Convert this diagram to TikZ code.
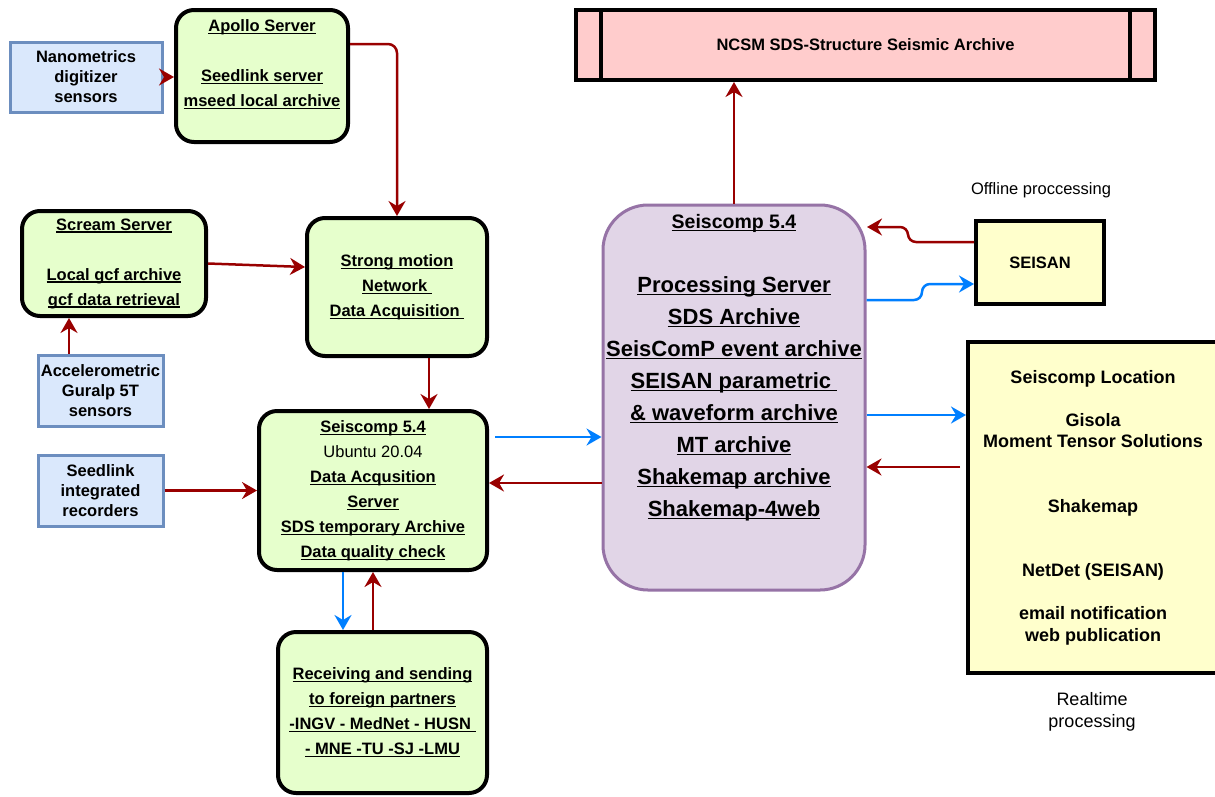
\documentclass[tikz,border=0pt]{standalone}
\usepackage{fontspec}
\setmainfont{Liberation Sans}
\usetikzlibrary{arrows.meta}

\definecolor{boxgreen}{HTML}{E6FFCC}
\definecolor{sensorfill}{HTML}{DAE8FC}
\definecolor{sensorline}{HTML}{6C8EBF}
\definecolor{archivepink}{HTML}{FFCCCC}
\definecolor{procfill}{HTML}{E1D5E7}
\definecolor{procline}{HTML}{9673A6}
\definecolor{notepad}{HTML}{FFFFCC}
\definecolor{flowred}{HTML}{990000}
\definecolor{flowblue}{HTML}{007FFF}

% underline just below the baseline, like the drawing program does
\newsavebox{\undlbox}
\newcommand{\undl}[1]{\sbox{\undlbox}{#1}\rlap{\rule[-2.5pt]{\wd\undlbox}{1.2pt}}\usebox{\undlbox}}

\begin{document}
\begin{tikzpicture}[x=1pt, y=-1pt,
    sensor/.style={draw=sensorline, fill=sensorfill, line width=3pt, inner sep=0pt,
        align=center, font=\fontsize{16.5}{20}\selectfont\bfseries},
    server/.style={draw=black, fill=boxgreen, line width=4pt, rounded corners=18pt,
        inner sep=0pt, align=center, font=\fontsize{16.5}{25}\selectfont\bfseries},
    notebox/.style={draw=black, fill=notepad, line width=4pt, inner sep=0pt,
        align=center, font=\fontsize{18}{21.5}\selectfont\bfseries},
    redflow/.style={draw=flowred, line width=2.5pt,
        -{Stealth[length=15pt,width=17pt,inset=5pt]}},
    blueflow/.style={draw=flowblue, line width=2.5pt,
        -{Stealth[length=15pt,width=17pt,inset=5pt]}}]

    % 0. Page frame
    \useasboundingbox (0,0) rectangle (1215,796);
    \fill[white] (0,0) rectangle (1215,796);

    % 1. Sensors (blue boxes)
    \node[sensor, minimum width=152pt, minimum height=70pt] (nano) at (86,77)
        {Nanometrics\\digitizer\\sensors};
    \node[sensor, minimum width=125pt, minimum height=71pt] (accel) at (100.5,390.5)
        {Accelerometric\\Guralp 5T\\sensors};
    \node[sensor, minimum width=125pt, minimum height=71pt] (seedlink) at (100.5,490.5)
        {Seedlink\\integrated\\recorders};

    % 2. Acquisition servers (green boxes)
    \node[server, minimum width=172pt, minimum height=132pt] (apollo) at (262,76)
        {\undl{Apollo Server}\\ ~\\ \undl{Seedlink server}\\ \undl{mseed local archive}\\ ~};
    \node[server, minimum width=184pt, minimum height=105pt] (scream) at (114,263.5)
        {\undl{Scream Server}\\ ~\\ \undl{Local gcf archive}\\ \undl{gcf data retrieval}};
    \node[server, minimum width=180pt, minimum height=138pt] (strong) at (397,287)
        {\undl{Strong motion}\\ \undl{Network~}\\ \undl{Data Acquisition~}};
    \node[server, minimum width=228pt, minimum height=159pt] (sc54a) at (373,490.5)
        {\undl{Seiscomp 5.4}\\ {\mdseries Ubuntu 20.04}\\
         \undl{Data Acqusition}\\ \undl{Server}\\ \undl{SDS temporary Archive}\\
         \undl{Data quality check}};
    \node[server, minimum width=209pt, minimum height=161pt] (foreign) at (382.5,712.5)
        {\undl{Receiving and sending}\\ \undl{to foreign partners}\\
         \undl{-INGV - MedNet - HUSN~}\\ \undl{- MNE -TU -SJ -LMU}};

    % 3. Archive on top
    \node[draw=black, fill=archivepink, line width=4pt, inner sep=0pt,
        minimum width=579pt, minimum height=70pt,
        font=\fontsize{16.5}{20}\selectfont\bfseries] (ncsm) at (865.5,45)
        {NCSM SDS-Structure Seismic Archive};
    \draw[line width=4pt] ([xshift=27pt]ncsm.north west) -- ([xshift=27pt]ncsm.south west);
    \draw[line width=4pt] ([xshift=-27pt]ncsm.north east) -- ([xshift=-27pt]ncsm.south east);

    % 4. Processing server (purple)
    \node[draw=procline, fill=procfill, line width=3pt, rounded corners=45pt, inner sep=0pt,
        minimum width=262pt, minimum height=385pt, align=center,
        font=\fontsize{22}{32}\selectfont\bfseries] (proc) at (734,397.5)
        {{\fontsize{19.5}{32}\selectfont\undl{Seiscomp 5.4}}\\ ~\\
         \undl{Processing Server}\\ \undl{SDS Archive}\\ \undl{SeisComP event archive}\\
         \undl{SEISAN parametric~}\\ \undl{\& waveform archive}\\ \undl{MT archive}\\
         \undl{Shakemap archive}\\ \undl{Shakemap-4web}\\ ~\\ ~};

    % 5. Offline and realtime processing (yellow)
    \node[notebox, font=\fontsize{16.5}{20}\selectfont\bfseries,
        minimum width=128pt, minimum height=83pt] (seisan) at (1040,262.5) {SEISAN};
    \node[notebox, minimum width=250pt, minimum height=331pt] (realtime) at (1093,507.5)
        {Seiscomp Location\\ ~\\ Gisola\\ Moment Tensor Solutions\\ ~\\ ~\\ Shakemap\\ ~\\ ~\\
         NetDet (SEISAN)\\ ~\\ email notification\\ web publication};
    \node[font=\fontsize{16.5}{21}\selectfont] (offlinelbl) at (1041,190) {Offline proccessing};
    \node[align=center, font=\fontsize{18}{21.5}\selectfont] (realtimelbl) at (1092,712)
        {Realtime\\processing};

    % 6. Data flow, red arrows
    \draw[redflow] (nano.east) -- (nano.east -| apollo.west);
    \draw[redflow] ([yshift=32pt]apollo.east) {[rounded corners=9pt] -| (strong.north)};
    \draw[redflow] (scream.east) -- ([yshift=20pt]strong.west);
    \draw[redflow] ([xshift=-31.5pt]accel.north) -- ([xshift=-31.5pt]accel.north |- scream.south);
    \draw[redflow] ([xshift=32pt]strong.south) -- ([xshift=32pt]strong.south |- sc54a.north);
    \draw[redflow] (seedlink.east) -- (seedlink.east -| sc54a.west);
    \draw[redflow] ([yshift=-85.5pt]proc.west) -- ([yshift=-85.5pt]proc.west -| sc54a.east);
    \draw[redflow] ([xshift=-9.5pt]foreign.north) -- ([xshift=-9.5pt]foreign.north |- sc54a.south);
    \draw[redflow] (proc.north) -- (proc.north |- ncsm.south);
    \coordinate (seisanin) at (867,227);
    \draw[redflow] ([yshift=20.5pt]seisan.west) {[rounded corners=8pt] -- (908,242) -- (908,227)} -- (seisanin);
    \draw[redflow] ([xshift=-6pt,yshift=40.5pt]realtime.west) -- ([yshift=40.5pt]realtime.west -| proc.east);

    % 7. Data flow, blue arrows
    \draw[blueflow] ([xshift=6pt,yshift=53.5pt]sc54a.east) -- ([yshift=53.5pt]sc54a.east -| proc.west);
    \draw[blueflow] ([xshift=-30pt]sc54a.south) -- ([xshift=-30pt]sc54a.south |- foreign.north);
    \draw[blueflow] ([yshift=97.5pt]proc.east) {[rounded corners=8pt] -- (922,300) -- (922,284)} -- ([yshift=-21.5pt]seisan.west);
    \draw[blueflow] ([yshift=-17.5pt]proc.east) -- ([yshift=-17.5pt]proc.east -| realtime.west);

\end{tikzpicture}
\end{document}
